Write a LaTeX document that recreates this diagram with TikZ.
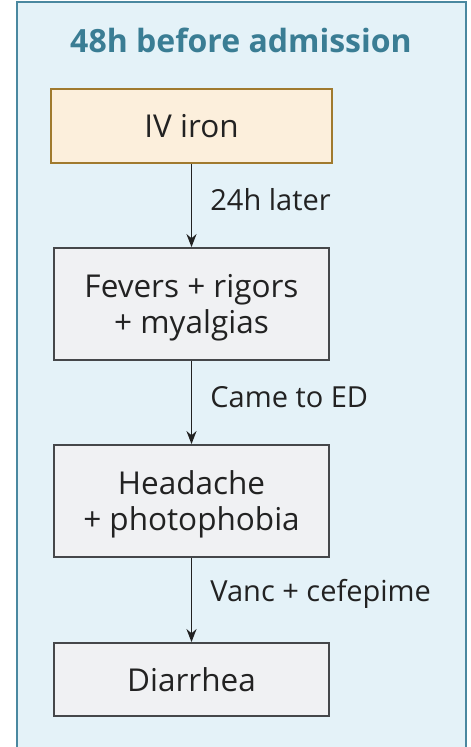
\documentclass[tikz,border=0pt]{standalone}
\usepackage{fontspec}
\setmainfont{Open Sans}
\usetikzlibrary{arrows.meta}
\definecolor{outerfill}{HTML}{E4F2F8}
\definecolor{outerdraw}{HTML}{4A88A0}
\definecolor{titlecol}{HTML}{3A7D94}
\definecolor{ironfill}{HTML}{FCEFDC}
\definecolor{irondraw}{HTML}{A07A2E}
\definecolor{greyfill}{HTML}{F0F1F3}
\definecolor{greydraw}{HTML}{45474A}
\definecolor{txt}{HTML}{222222}
\tikzset{
  x=1pt,y=1pt,
  box/.style={draw=greydraw, fill=greyfill, line width=1.8pt, minimum width=275pt, align=center, font=\fontsize{31.5}{36}\selectfont, text=txt, inner sep=0pt},
  twoline/.style={text depth=0pt},
  ironbox/.style={box, draw=irondraw, fill=ironfill, minimum width=281pt},
  conn/.style={-{Stealth[length=13pt,width=10pt]}, line width=1.8pt, draw=txt},
  lbl/.style={font=\fontsize{29}{34}\selectfont, text=txt, anchor=west, inner sep=0pt}
}
\begin{document}
\begin{tikzpicture}
\useasboundingbox (0,0) rectangle (471,747);
\fill[outerfill] (17,-10) rectangle (466,745);
\draw[outerdraw, line width=2pt] (17,-10) -- (17,745) -- (466,745) -- (466,-10);
\node[font=\bfseries\fontsize{32}{38}\selectfont, text=titlecol] (title) at (241,707) {48h before admission};
\node[ironbox, minimum height=74pt] (iron) at (191.5,621) {IV iron};
\node[box, twoline, minimum height=112pt] (fevers) at (191.5,443) {Fevers + rigors\\+ myalgias};
\node[box, twoline, minimum height=112pt] (head) at (191.5,246) {Headache\\+ photophobia};
\node[box, minimum height=73pt] (diar) at (191.5,67.5) {Diarrhea};
\draw[conn] (iron) -- (fevers) node[midway, lbl, xshift=18pt, yshift=6pt] {24h later};
\draw[conn] (fevers) -- (head) node[midway, lbl, xshift=18pt, yshift=5pt] {Came to ED};
\draw[conn] (head) -- (diar) node[midway, lbl, xshift=18pt, yshift=6pt] {Vanc + cefepime};
\end{tikzpicture}
\end{document}
